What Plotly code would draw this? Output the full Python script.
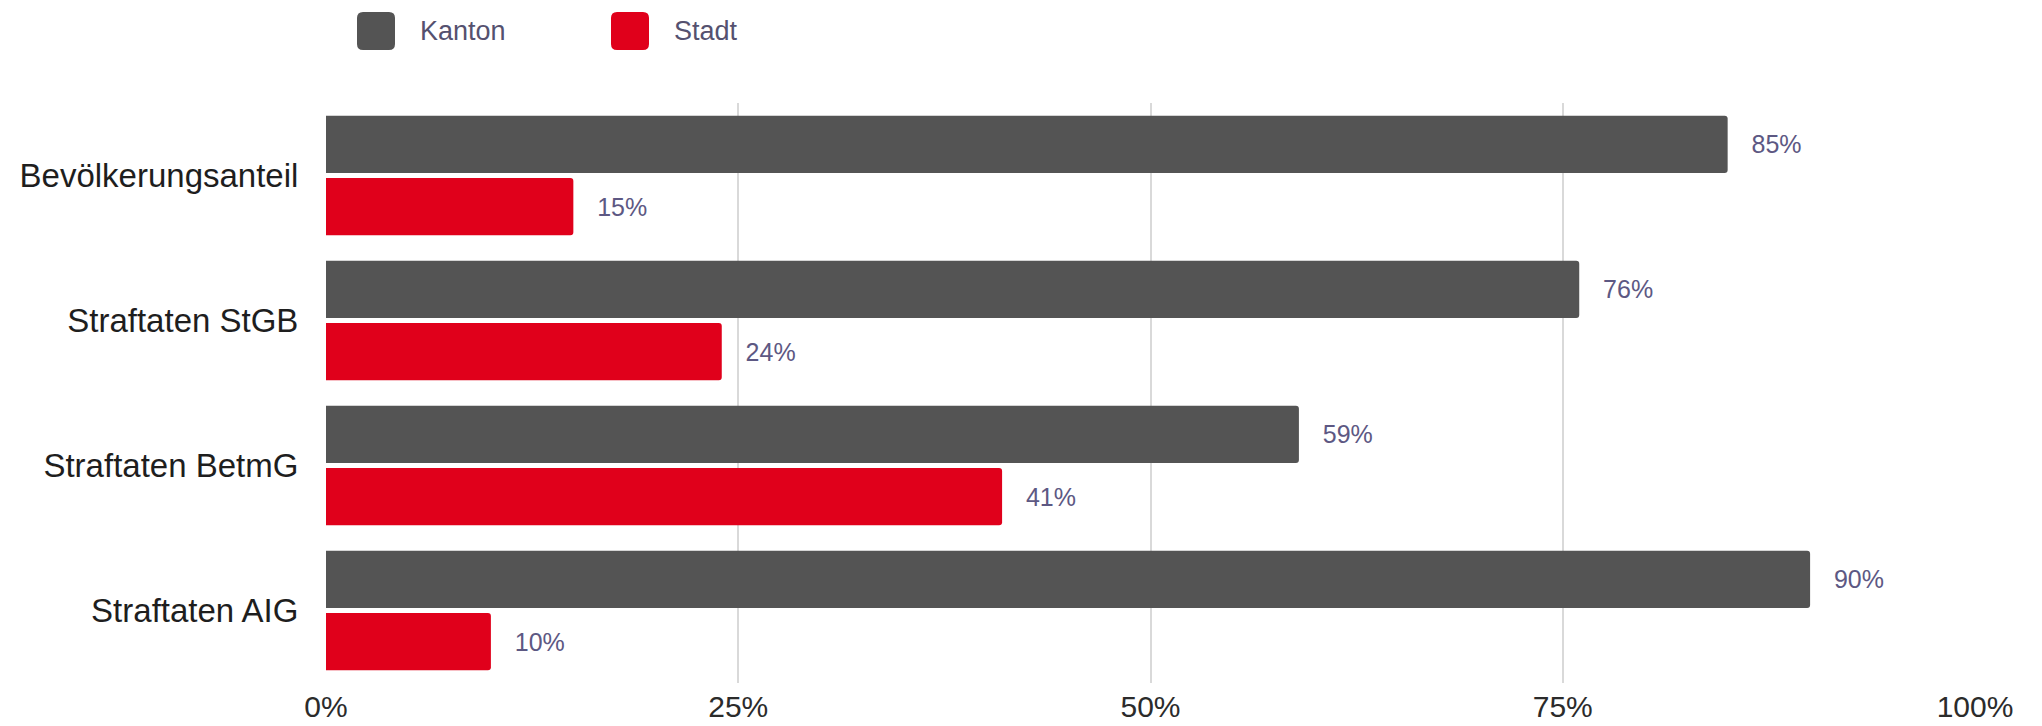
import plotly.graph_objects as go

categories = ["Bevölkerungsanteil", "Straftaten StGB", "Straftaten BetmG", "Straftaten AIG"]
kanton = [85, 76, 59, 90]
stadt = [15, 24, 41, 10]
series_names = ["Kanton", "Stadt"]
series_colors = ["#545454", "#e0001b"]
tick_vals = [0, 25, 50, 75, 100]
tick_text = ["0%", "25%", "50%", "75%", "100%"]

# the page body adds an 8px margin, so the figure is sized/shifted to compensate
OFF = 8
W, H = 2042 - OFF, 726 - OFF
L, T = 326 - OFF, 103 - OFF
R = W - (1975 - OFF)
B = H - (683 - OFF)
FONT = "Liberation Sans, Arial, sans-serif"

fig = go.Figure()
for name, vals, col in zip(series_names, [kanton, stadt], series_colors):
    fig.add_trace(go.Bar(
        y=categories, x=vals, name=name, orientation="h",
        marker=dict(color=col, line=dict(width=0), cornerradius=3),
        text=[f"\u00a0\u00a0\u00a0{v}%" for v in vals],
        textposition="outside", cliponaxis=False,
        textfont=dict(family=FONT, size=25, color="#5d5883"),
        showlegend=False,
    ))

pw = W - L - R
ph = H - T - B
def px_x(p):
    return (p - OFF - L) / pw
def px_y(p):
    return (H - B - (p - OFF)) / ph

# legend drawn as rounded swatches + labels (page pixel positions)
legend_items = [(376, 418), (630, 672)]
half = 19
r = 6
sq_path = (f"M{-half + r},{-half} L{half - r},{-half} Q{half},{-half} {half},{-half + r} "
           f"L{half},{half - r} Q{half},{half} {half - r},{half} "
           f"L{-half + r},{half} Q{-half},{half} {-half},{half - r} "
           f"L{-half},{-half + r} Q{-half},{-half} {-half + r},{-half} Z")
shapes, annotations = [], []
for (cx, tx), name, col in zip(legend_items, series_names, series_colors):
    shapes.append(dict(type="path", xref="paper", yref="paper",
                       xsizemode="pixel", ysizemode="pixel",
                       xanchor=px_x(cx), yanchor=px_y(31),
                       path=sq_path, fillcolor=col, line=dict(width=0), layer="above"))
    annotations.append(dict(xref="paper", yref="paper", x=px_x(tx), y=px_y(31),
                            text=name, showarrow=False, xanchor="left", yanchor="middle",
                            font=dict(family=FONT, size=27, color="#55516f")))

fig.update_layout(
    width=W, height=H,
    margin=dict(l=L, r=R, t=T, b=B, autoexpand=False),
    paper_bgcolor="white", plot_bgcolor="white",
    barmode="group", bargap=0.14, bargroupgap=0.08,
    font=dict(family=FONT),
    shapes=shapes, annotations=annotations,
    xaxis=dict(range=[0, 100], tickvals=tick_vals, ticktext=tick_text,
               showgrid=True, gridcolor="#d9d9d9", gridwidth=2,
               zeroline=False, showline=False, automargin=False,
               ticks="", ticklabelstandoff=3,
               tickfont=dict(family=FONT, size=30, color="#2b2b2b")),
    yaxis=dict(autorange="reversed", showgrid=False, zeroline=False, showline=False,
               automargin=False,
               ticks="outside", ticklen=20, tickcolor="rgba(0,0,0,0)",
               tickfont=dict(family=FONT, size=33, color="#1e1e1e")),
)

fig.write_html("out.html")
